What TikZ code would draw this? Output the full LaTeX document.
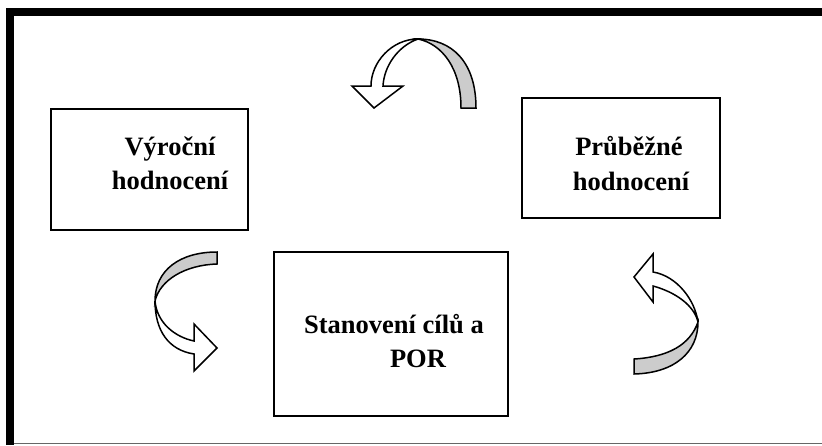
\documentclass[tikz,border=0pt]{standalone}
\usepackage{fontspec}
\setmainfont{Liberation Serif}
\begin{document}
\begin{tikzpicture}[x=1pt,y=-1pt,
  box/.style={draw=black,line width=2pt,minimum width=#1,inner sep=0pt},
  lbl/.style={font=\fontsize{26.5}{34}\selectfont\bfseries,anchor=base,inner sep=0pt},
  rib/.style={draw=black,line width=1.5pt,line join=miter},
  under/.style={rib,fill=black!20},
  front/.style={rib,fill=white}]
\useasboundingbox (0,0) rectangle (822,445);
% frame
\fill[black] (6,8) rectangle (822,16);
\fill[black] (6,8) rectangle (14,445);
\draw[black!60,line width=1.2pt] (14,443.4) -- (822,443.4);
% boxes
\node[box=197pt,minimum height=121pt] (b1) at (149.5,169.5) {};
\node[box=198pt,minimum height=120pt] (b2) at (621,158) {};
\node[box=234pt,minimum height=164pt] (b3) at (391,334) {};
\node[lbl] (t1a) at (170,155) {Výroční};
\node[lbl] (t1b) at (170,189) {hodnocení};
\node[lbl] (t2a) at (629,155) {Průběžné};
\node[lbl] (t2b) at (631,190) {hodnocení};
\node[lbl] (t3a) at (394,333) {Stanovení cílů a};
\node[lbl] (t3b) at (418,367) {POR};
% top curved arrow
\draw[under] (476,108) .. controls (476,62) and (452,39) .. (418,39)
  .. controls (442,44) and (461,68) .. (461,108) -- cycle;
\draw[front] (418,39) .. controls (392,39) and (371,62) .. (371,86)
  -- (352,86) -- (374,108) -- (403,86) -- (383,86)
  .. controls (384,66) and (398,46) .. (418,39) -- cycle;
% left curved arrow
\draw[under] (217,252) -- (217,264) .. controls (185,265) and (160,280) .. (155,301)
  .. controls (155,270) and (180,252) .. (217,252) -- cycle;
\draw[front] (155,301) .. controls (157,323) and (175,337) .. (194,341)
  -- (194,324) -- (217,348) -- (194,371) -- (194,354)
  .. controls (168,350) and (155,330) .. (155,301) -- cycle;
% right curved arrow
\draw[under] (634,359) -- (634,374) .. controls (675,373) and (698,352) .. (698,322)
  .. controls (690,345) and (668,357) .. (634,359) -- cycle;
\draw[front] (698,322) .. controls (695,300) and (677,276) .. (653,272)
  -- (653,254) -- (634,277) -- (653,302) -- (653,286)
  .. controls (675,292) and (694,305) .. (698,322) -- cycle;
\end{tikzpicture}
\end{document}
